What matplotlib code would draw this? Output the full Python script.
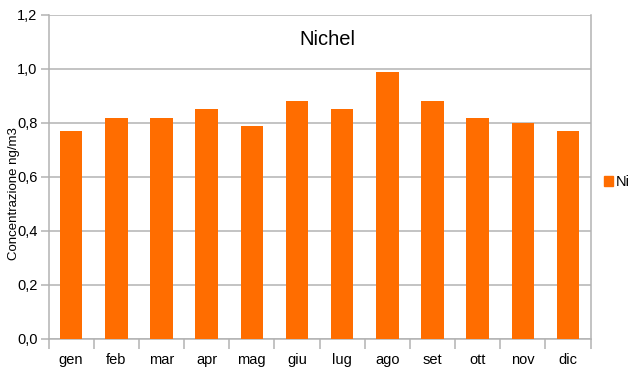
import numpy as np
import matplotlib.pyplot as plt
from matplotlib.ticker import FuncFormatter, FixedLocator
from matplotlib.patches import Patch

plt.rcParams['font.family'] = ['Liberation Sans', 'DejaVu Sans']

# Monthly nickel concentration (ng/m3)
mesi = ['gen', 'feb', 'mar', 'apr', 'mag', 'giu', 'lug', 'ago', 'set', 'ott', 'nov', 'dic']
ni = [0.77, 0.82, 0.82, 0.85, 0.79, 0.88, 0.85, 0.99, 0.88, 0.82, 0.80, 0.77]

arancio = '#ff6d00'
grigio = '#b3b3b3'

fig = plt.figure(figsize=(6.31, 3.71), dpi=100)
ax = fig.add_axes([0.0769, 0.0863, 0.8592, 0.8733])

x = np.arange(len(mesi))
ax.bar(x, ni, width=0.5, color=arancio, zorder=3)

ax.set_xlim(-0.5, len(mesi) - 0.5)
ax.set_ylim(0, 1.2)

# y axis: comma decimals, gridlines every 0.2
ax.set_yticks(np.arange(0, 1.21, 0.2))
ax.yaxis.set_major_formatter(FuncFormatter(lambda v, p: f'{v:.1f}'.replace('.', ',')))
ax.grid(axis='y', color=grigio, linewidth=1.1, zorder=0)

# x axis: labels at the bar centres, tick marks between months
ax.set_xticks(x)
ax.set_xticklabels(mesi)
ax.xaxis.set_minor_locator(FixedLocator(np.arange(-0.5, len(mesi), 1.0)))
ax.tick_params(axis='x', which='major', length=0, pad=10, labelsize=10.5)
ax.tick_params(axis='x', which='minor', length=7, color=grigio, width=1.1)
ax.tick_params(axis='y', length=6, color=grigio, width=1.1, labelsize=10.5, pad=2)

for s in ['left', 'bottom', 'right']:
    ax.spines[s].set_color(grigio)
    ax.spines[s].set_linewidth(1.1)
ax.spines['top'].set_visible(False)

ax.set_ylabel('Concentrazione ng/m3', fontsize=9.5)
ax.yaxis.set_label_coords(-0.052, 0.45)

ax.text(0.515, 0.955, 'Nichel', transform=ax.transAxes, ha='center', va='top', fontsize=14.5)

fig.legend(handles=[Patch(color=arancio, label='Ni')], loc='center left',
           bbox_to_anchor=(0.958, 0.51), frameon=False, fontsize=10.5,
           handlelength=0.6, handleheight=0.7, handletextpad=0.2, borderaxespad=0,
           borderpad=0)

fig.savefig('out.png', dpi=100)
